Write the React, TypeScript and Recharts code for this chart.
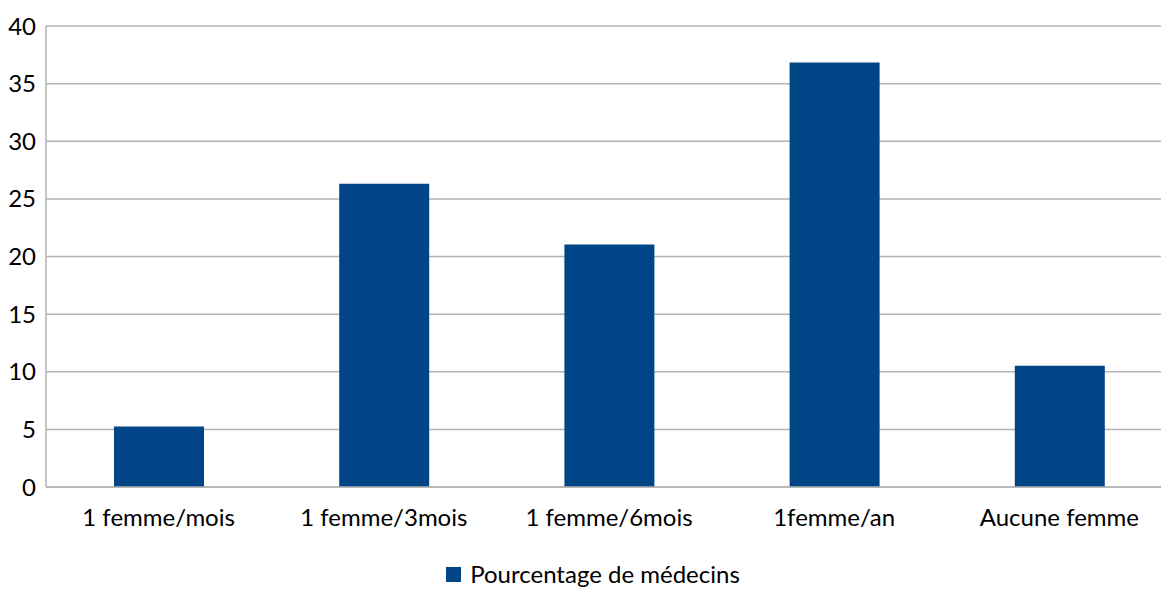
import React from "react";
import { Bar, BarChart, CartesianGrid, Legend, XAxis, YAxis } from "recharts";

const categories = [
  "1 femme/mois",
  "1 femme/3mois",
  "1 femme/6mois",
  "1femme/an",
  "Aucune femme",
];
const pourcentages = [5.26, 26.32, 21.05, 36.84, 10.53];
const yTicks = [0, 5, 10, 15, 20, 25, 30, 35, 40];

const data = categories.map((c, i) => ({ name: c, value: pourcentages[i] }));

const FONT = "Lato, 'Open Sans', sans-serif";

const LegendContent = () => (
  <div
    style={{
      display: "flex",
      justifyContent: "center",
      alignItems: "center",
      fontFamily: FONT,
      fontSize: 24,
      lineHeight: "28px",
      color: "#000",
      paddingTop: 13,
      paddingLeft: 14,
    }}
  >
    <span
      style={{
        display: "inline-block",
        width: 15,
        height: 15,
        background: "#004586",
        marginRight: 9,
      }}
    />
    Pourcentage de médecins
  </div>
);

export default function App() {
  return (
    <div style={{ position: "fixed", left: 0, top: 0, background: "#fff", overflow: "hidden", width: 1161, height: 589 }}>
      <BarChart
        width={1161}
        height={589}
        data={data}
        margin={{ top: 26, right: -11, bottom: 0, left: 0 }}
      >
        <CartesianGrid vertical={false} stroke="#b3b3b3" strokeWidth={1.5} />
        <XAxis
          dataKey="name"
          height={60}
          tickLine={false}
          axisLine={{ stroke: "#b3b3b3", strokeWidth: 1.5 }}
          tick={{ fill: "#000", fontSize: 24, fontFamily: FONT }}
          tickMargin={16}
          interval={0}
        />
        <YAxis
          width={46}
          domain={[0, 40]}
          ticks={yTicks}
          tickLine={false}
          axisLine={{ stroke: "#b3b3b3", strokeWidth: 1.5 }}
          tick={{ fill: "#000", fontSize: 24, fontFamily: FONT }}
          tickMargin={4}
        />
        <Legend verticalAlign="bottom" height={42} content={<LegendContent />} />
        <Bar dataKey="value" fill="#004586" barSize={90} isAnimationActive={false} />
      </BarChart>
    </div>
  );
}
